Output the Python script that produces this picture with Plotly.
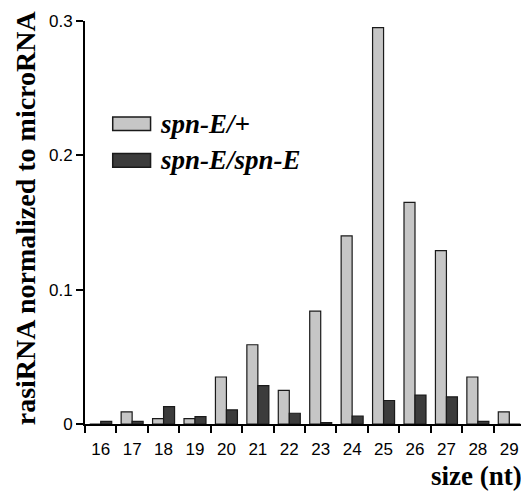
import plotly.graph_objects as go

sizes = ["16", "17", "18", "19", "20", "21", "22", "23", "24", "25", "26", "27", "28", "29"]
het_values = [0.0, 0.009, 0.004, 0.004, 0.035, 0.059, 0.025, 0.084, 0.140, 0.295, 0.165, 0.129, 0.035, 0.009]
mut_values = [0.002, 0.002, 0.013, 0.0055, 0.0105, 0.0285, 0.008, 0.001, 0.0058, 0.0175, 0.0215, 0.0202, 0.002, 0.0]
series_names = ["spn-E/+", "spn-E/spn-E"]
y_ticks = [0, 0.1, 0.2, 0.3]
y_tick_labels = ["0", "0.1", "0.2", "0.3"]

GRAY = "#c6c6c6"
DARK = "#3c3c3c"
LINE = "#1a1a1a"
SERIF = "Liberation Serif, Times New Roman, serif"
SANS = "Liberation Sans, Arial, sans-serif"

fig = go.Figure()
fig.add_trace(go.Bar(x=sizes, y=het_values, name=series_names[0],
                     marker=dict(color=GRAY, line=dict(color=LINE, width=1.2))))
fig.add_trace(go.Bar(x=sizes, y=mut_values, name=series_names[1],
                     marker=dict(color=DARK, line=dict(color=LINE, width=1.2))))

# page body has an 8px default margin, so the figure is sized to fit the 529x494 window
fig.update_layout(
    width=521, height=486,
    margin=dict(l=77, r=4, t=8, b=70),
    plot_bgcolor="white", paper_bgcolor="white",
    barmode="group", bargap=0.3, bargroupgap=0,
    showlegend=False,
    font=dict(family=SANS, color="black"),
)
fig.update_xaxes(
    type="category", range=[-0.5, 13.5],
    showline=True, linecolor="black", linewidth=2,
    ticks="outside", tickson="boundaries", ticklen=7, tickwidth=2, tickcolor="black",
    tickfont=dict(size=17, family=SANS, color="black"),
    ticklabelstandoff=9,
    showgrid=False, zeroline=False,
)
fig.update_yaxes(
    range=[0, 0.3], tickvals=y_ticks, ticktext=y_tick_labels,
    showline=True, linecolor="black", linewidth=2,
    ticks="outside", ticklen=7, tickwidth=2, tickcolor="black",
    tickfont=dict(size=17, family=SANS, color="black"),
    ticklabeloverflow="allow",
    showgrid=False, zeroline=False,
)

# y axis title
fig.add_annotation(text="<b>rasiRNA normalized to microRNA</b>", xref="paper", yref="paper",
                   x=-0.135, y=0.512, xanchor="center", yanchor="middle", textangle=-90,
                   showarrow=False, font=dict(size=28, family=SERIF, color="black"))

# x axis title, bottom right
fig.add_annotation(text="<b>size (nt)</b>", xref="paper", yref="paper",
                   x=1.0, y=0, xanchor="right", yanchor="middle", yshift=-52, xshift=-2,
                   borderpad=0, showarrow=False,
                   font=dict(size=27, family=SERIF, color="black"))

# custom legend (swatches + labels)
legend_colors = [GRAY, DARK]
legend_y = [0.745, 0.654]
for name, col, ly in zip(series_names, legend_colors, legend_y):
    fig.add_shape(type="rect", xref="paper", yref="paper",
                  x0=0.063, x1=0.149, y0=ly - 0.017, y1=ly + 0.017,
                  fillcolor=col, line=dict(color=LINE, width=1.5))
    fig.add_annotation(text="<b><i>" + name + "</i></b>", xref="paper", yref="paper",
                       x=0.166, y=ly, xanchor="left", yanchor="middle", showarrow=False,
                       font=dict(size=27, family=SERIF, color="black"))

fig.write_html("out.html")
